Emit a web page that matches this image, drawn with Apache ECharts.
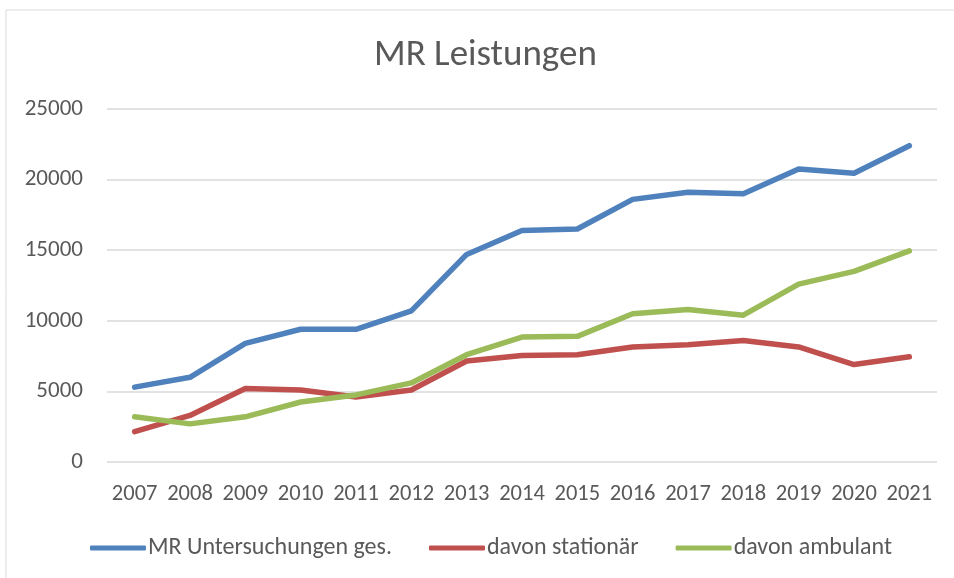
<!DOCTYPE html>
<html><head><meta charset="utf-8">
<script src="https://cdn.jsdelivr.net/npm/echarts@6/dist/echarts.min.js"></script>
<style>html,body{margin:0;padding:0;background:#fff}#c{width:954px;height:578px}</style>
</head><body><div id="c"></div>
<script>
const years = ['2007','2008','2009','2010','2011','2012','2013','2014','2015','2016','2017','2018','2019','2020','2021'];
const gesamt = [5300, 6000, 8400, 9400, 9400, 10700, 14700, 16400, 16500, 18600, 19100, 19000, 20750, 20450, 22400];
const stationaer = [2150, 3300, 5200, 5100, 4600, 5100, 7150, 7550, 7600, 8150, 8300, 8600, 8150, 6900, 7450];
const ambulant = [3200, 2700, 3200, 4250, 4750, 5600, 7600, 8850, 8900, 10500, 10800, 10400, 12600, 13500, 14950];
const seriesNames = ['MR Untersuchungen ges.', 'davon stationär', 'davon ambulant'];
const colors = ['#4F81BD', '#C0504D', '#9BBB59'];
const FONT = "Carlito, 'Liberation Sans', sans-serif";
const chart = echarts.init(document.getElementById('c'));
const mk = (name, data, color) => ({
  name, type: 'line', data, symbol: 'none', smooth: false,
  lineStyle: { width: 5.5, color, cap: 'round', join: 'round' },
  itemStyle: { color }
});
chart.setOption({
  animation: false,
  backgroundColor: '#fff',
  graphic: [{ type: 'rect', shape: { x: 6, y: 10, width: 1000, height: 1000 }, style: { fill: 'none', stroke: '#d9d9d9', lineWidth: 1 }, silent: true }],
  title: { text: 'MR Leistungen', left: 369, top: 32, textStyle: { fontFamily: FONT, fontSize: 37, fontWeight: 'normal', color: '#595959' } },
  legend: {
    bottom: 13, left: 85, itemWidth: 56, itemHeight: 5, itemGap: 37, icon: 'roundRect',
    textStyle: { fontFamily: FONT, fontSize: 24, color: '#595959', padding: [0, 0, 0, -3] },
    data: seriesNames
  },
  grid: { left: 107, right: 17, top: 109, bottom: 116, containLabel: false },
  xAxis: {
    type: 'category', data: years, boundaryGap: true,
    axisLine: { show: false }, axisTick: { show: false },
    axisLabel: { fontFamily: FONT, fontSize: 22.5, color: '#595959', margin: 21, interval: 0 }
  },
  yAxis: {
    type: 'value', min: 0, max: 25000, interval: 5000,
    axisLine: { show: false }, axisTick: { show: false },
    axisLabel: { fontFamily: FONT, fontSize: 23, color: '#595959', margin: 24, formatter: v => String(v) },
    splitLine: { lineStyle: { color: '#d9d9d9', width: 1.5 } }
  },
  series: [mk(seriesNames[0], gesamt, colors[0]), mk(seriesNames[1], stationaer, colors[1]), mk(seriesNames[2], ambulant, colors[2])]
});
</script></body></html>
